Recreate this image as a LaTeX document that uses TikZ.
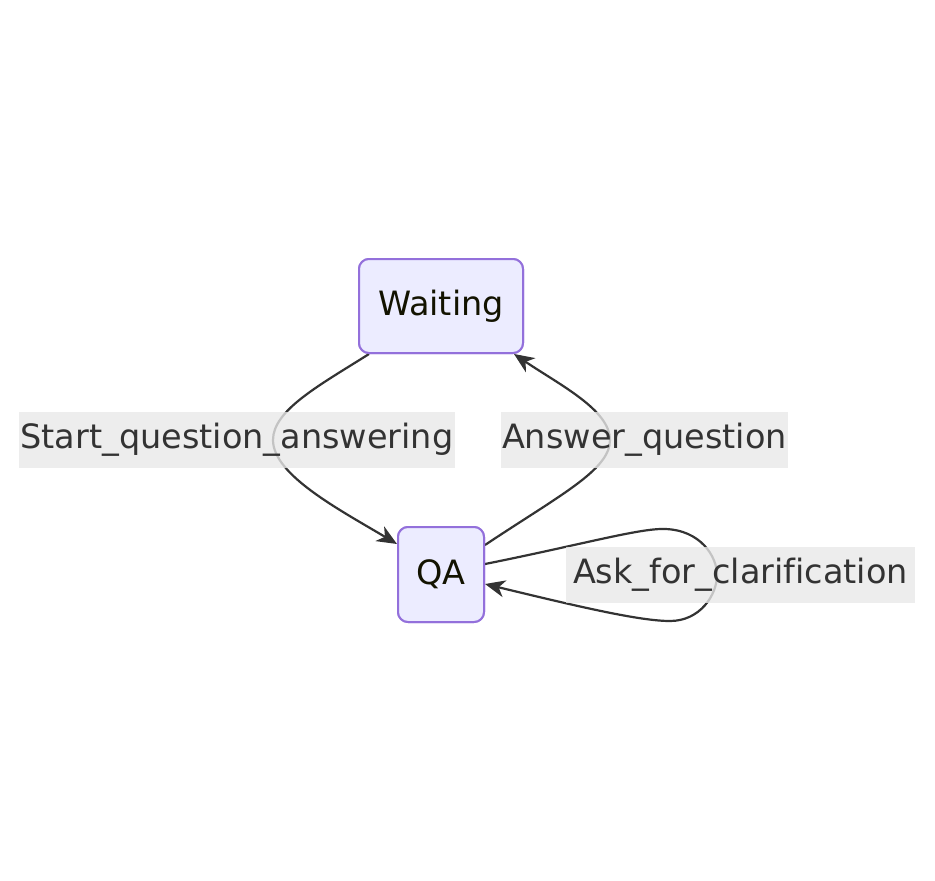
\documentclass[tikz,border=0pt]{standalone}
\usepackage{fontspec}
\setmainfont[Ligatures=NoCommon]{DejaVu Sans}
\usetikzlibrary{arrows.meta}
\definecolor{statefill}{HTML}{ECECFF}
\definecolor{stateline}{HTML}{9370DB}
\definecolor{edgecol}{HTML}{333333}
\definecolor{labelbg}{HTML}{E8E8E8}
\definecolor{statetext}{HTML}{131300}
\begin{document}
\begin{tikzpicture}[x=1pt,y=-1pt,
  state/.style={draw=stateline,fill=statefill,line width=2pt,rounded corners=10pt,
    text=statetext,font=\fontsize{33.5}{38}\selectfont,inner sep=0pt},
  trans/.style={draw=edgecol,line width=2.2pt,
    -{Stealth[length=20pt,width=17pt,inset=6pt]}},
  elabel/.style={fill=labelbg,fill opacity=0.8,text opacity=1,text=edgecol,
    font=\fontsize{33.5}{38}\selectfont,inner xsep=1pt,inner ysep=0pt,
    minimum height=56pt}]
\useasboundingbox (0,0) rectangle (935,881);

% states
\node[state,minimum width=164pt,minimum height=94pt] (W) at (441,306) {Waiting};
\node[state,minimum width=86pt,minimum height=95pt] (QA) at (441,574.5) {QA};

% transitions
\draw[trans] ([xshift=11pt]W.south west)
  .. controls (320,385) and (273,410) .. (273,440)
  .. controls (273,475) and (340,510) .. ([yshift=-18pt]QA.north west);
\draw[trans] ([yshift=-19pt]QA.north east)
  .. controls (560,495) and (610,470) .. (610,440)
  .. controls (610,410) and (560,385) .. ([xshift=-10pt]W.south east);
\draw[trans] ([yshift=-38pt]QA.north east)
  .. controls (580,545) and (640,528) .. (665,529)
  .. controls (700,530) and (717,556) .. (717,575)
  .. controls (717,595) and (700,621) .. (670,621)
  .. controls (640,621) and (580,607) .. ([yshift=-58pt]QA.north east);

% transition labels
\node[elabel,minimum width=436pt] (l1) at (237,440) {Start\_question\_answering};
\node[elabel,minimum width=285pt] (l2) at (644.5,440) {Answer\_question};
\node[elabel,minimum width=349pt] (l3) at (740.5,575) {Ask\_for\_clarification};

% states on top of the transitions
\node[state,minimum width=164pt,minimum height=94pt] at (W) {Waiting};
\node[state,minimum width=86pt,minimum height=95pt] at (QA) {QA};
\end{tikzpicture}
\end{document}
